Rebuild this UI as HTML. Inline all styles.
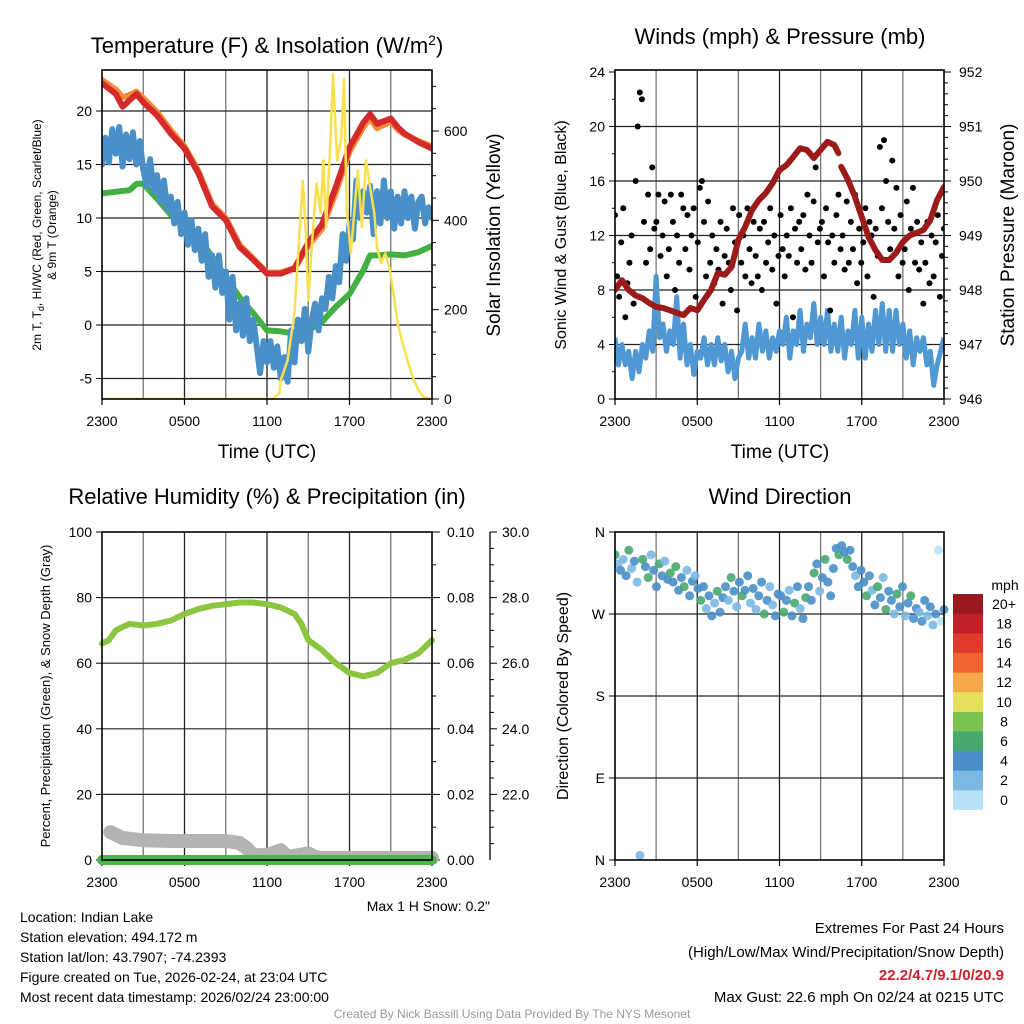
<!DOCTYPE html>
<html><head><meta charset="utf-8"><style>
html,body{margin:0;padding:0;background:#fff;}
svg{display:block;font-family:"Liberation Sans",sans-serif;}
</style></head><body>
<svg id="c" width="1024" height="1024" viewBox="0 0 1024 1024" xmlns="http://www.w3.org/2000/svg">
<rect width="1024" height="1024" fill="#fff"/>
<text x="267" y="53" font-size="22" text-anchor="middle">Temperature (F) &amp; Insolation (W/m<tspan dy="-8" font-size="14">2</tspan><tspan dy="8">)</tspan></text>
<text x="780" y="44" font-size="22" text-anchor="middle">Winds (mph) &amp; Pressure (mb)</text>
<text x="267" y="504" font-size="22" text-anchor="middle">Relative Humidity (%) &amp; Precipitation (in)</text>
<text x="780" y="504" font-size="22" text-anchor="middle">Wind Direction</text>

<text transform="translate(41,235) rotate(-90)" font-size="12" text-anchor="middle">2m T, T<tspan font-size="9" dy="3">d</tspan><tspan dy="-3">, HI/WC (Red, Green, Scarlet/Blue)</tspan></text>
<text transform="translate(56,235) rotate(-90)" font-size="12" text-anchor="middle">&amp; 9m T (Orange)</text>
<text transform="translate(500,235) rotate(-90)" font-size="19" text-anchor="middle">Solar Insolation (Yellow)</text>
<text transform="translate(566,235) rotate(-90)" font-size="16" text-anchor="middle">Sonic Wind &amp; Gust (Blue, Black)</text>
<text transform="translate(1014,235) rotate(-90)" font-size="19" text-anchor="middle">Station Pressure (Maroon)</text>
<text transform="translate(50,696) rotate(-90)" font-size="13" text-anchor="middle">Percent, Precipitation (Green), &amp; Snow Depth (Gray)</text>
<text transform="translate(568,696) rotate(-90)" font-size="16" text-anchor="middle">Direction (Colored By Speed)</text>
<text x="267" y="458" font-size="19" text-anchor="middle">Time (UTC)</text>
<text x="780" y="458" font-size="19" text-anchor="middle">Time (UTC)</text>

<text x="490" y="911" font-size="14" text-anchor="end">Max 1 H Snow: 0.2"</text>
<g font-size="14">
<text x="20" y="922">Location: Indian Lake</text>
<text x="20" y="942">Station elevation: 494.172 m</text>
<text x="20" y="962">Station lat/lon: 43.7907; -74.2393</text>
<text x="20" y="982">Figure created on Tue, 2026-02-24, at 23:04 UTC</text>
<text x="20" y="1002">Most recent data timestamp: 2026/02/24 23:00:00</text>
</g>
<g font-size="15" text-anchor="end">
<text x="1004" y="933">Extremes For Past 24 Hours</text>
<text x="1004" y="957">(High/Low/Max Wind/Precipitation/Snow Depth)</text>
<text x="1004" y="980" fill="#d0202a" font-weight="bold">22.2/4.7/9.1/0/20.9</text>
<text x="1004" y="1002">Max Gust: 22.6 mph On 02/24 at 0215 UTC</text>
</g>
<text x="512" y="1018" font-size="12" fill="#999" text-anchor="middle">Created By Nick Bassill Using Data Provided By The NYS Mesonet</text>
</svg>
<script>
// ---------- data ----------
const timeTicks = ["2300","0500","1100","1700","2300"];
const tempTicks = [-5,0,5,10,15,20];
const solarTicks = [0,200,400,600];
const windTicks = [0,4,8,12,16,20,24];
const presTicks = [946,947,948,949,950,951,952];
const rhTicks = [0,20,40,60,80,100];
const precipTicks = ["0.00","0.02","0.04","0.06","0.08","0.10"];
const snowTicks = ["22.0","24.0","26.0","28.0","30.0"];
const dirTicks = ["N","E","S","W","N"];
const speedBins = ["0","2","4","6","8","10","12","14","16","18","20+"];
const speedColors = ["#b6e1f6","#7ab8e3","#4a8fc7","#48a86d","#7cc250","#e6e05c","#f7a84a","#f06530","#e03a2c","#c0202a","#981a1e"];

const redHours = [0,1,1.5,2,2.5,3,4,5,6,7,8,9,10,11,12,13,14,15,16,17,18,19,19.5,20,21,21.5,22,23,24];
const redTemp = [22.6,21.6,20.4,21.0,21.6,20.8,19.6,17.9,16.5,14.2,11.1,9.8,7.3,6.1,4.8,4.8,5.3,7.7,9.4,12.9,16.6,18.9,19.7,18.8,19.3,18.5,17.9,17.1,16.5];
const orangeTemp = [22.9,22.0,21.3,21.5,21.8,21.2,19.9,18.2,16.7,14.4,11.3,10.0,7.5,6.2,4.9,4.9,5.3,7.4,9.0,12.4,16.2,18.5,19.3,18.4,19.0,18.3,17.8,17.2,16.7];
const greenHours = [0,2,2.5,3,4,5,6,7,8,9,10,11,12,13,14,15,16,17,18,19,19.5,20,21,22,23,24];
const greenTemp = [12.3,12.6,13.2,13.2,11.8,10.3,9.7,8.2,6.4,4.5,2.6,1.1,-0.5,-0.6,-0.8,-0.5,0.3,1.7,2.9,5.1,6.5,6.5,6.6,6.5,6.8,7.4];
const blueTemp = [15.0,17.5,15.2,18.3,16.0,18.5,14.8,17.8,15.5,
18.0,15.0,17.2,14.5, 13.0,15.5,12.5,14.0, 11.5,13.5,10.8,12.0, 9.5,11.5,8.5,10.5,
7.5,9.8,7.0,9.0, 6.0,8.5,4.5,6.5, 3.5,6.5,3.0,5.0, 0.5,4.5,-0.5,2.0,
-1.0,2.5,-1.5,0.5, -2.0,-4.5,-1.5,-3.5, -1.5,-4.0,-2.0,-5.0, -3.0,-5.3,-0.5,-3.5,
0.5,-1.5,1.5,-2.5, 0.5,2.0,-0.5,2.5, 1.5,4.5,2.5,5.5, 4.0,8.5,6.0,9.5,
8.0,13.5,10.0,12.5, 10.5,13.0,8.5,12.5, 9.5,13.5,10.0,12.5, 9.0,12.0,9.5,12.5,
10.0,12.0,9.0,11.5, 12.0,9.5,11.0,10.0];
const solarHours = [0,12.4,12.9,13,13.5,14,14.3,14.6,14.8,15,15.3,15.6,15.9,16.1,16.3,16.6,16.8,17.1,17.4,17.6,17.8,18.1,18.4,18.6,18.9,19.2,19.5,19.8,20,20.3,20.6,20.9,21.2,21.5,21.8,22.2,22.6,23,23.4,24];
const solarValues = [0,0,13,42,87,192,340,489,385,221,362,483,416,534,385,572,728,534,585,717,422,326,438,512,385,534,474,416,340,304,326,295,237,170,132,87,49,20,4,0];

const windSpeed = [4.5,2.5,4.0,2.5,3.5,1.5,3.5,2.0,4.0,
3.0,5.0,3.5,9.0, 4.5,5.5,3.5,5.0, 4.0,7.5,3.0,5.5, 2.5,4.0,1.8,3.5,
3.0,4.5,2.5,4.0, 2.5,4.5,2.8,4.0, 2.0,3.5,1.5,3.0, 3.5,5.5,3.0,4.5,
3.0,5.5,3.5,5.0, 3.0,4.5,3.5,5.0, 4.0,6.0,3.0,5.0, 4.0,6.5,3.5,5.5,
4.5,7.0,4.0,6.0, 4.0,6.5,3.5,5.5, 3.5,6.0,3.0,5.0, 4.0,6.5,3.0,6.0,
3.0,5.5,3.5,6.5, 4.0,7.0,3.5,6.5, 3.5,6.5,4.0,5.5, 3.0,5.0,2.5,4.5,
3.5,4.5,2.5,3.5, 1.0,2.5,3.5,4.5];
const gustSpeed = [13.5,9,7.5,11.5,14,6,8.5,10,12,7,
16,20,22.5,22,13,10,15,11,17,12.5,
13,15,10.5,12,14.5,9,11,15,13,8,
12,10,15,14,11,13.5,9.5,12,14,7.5,
11.5,15.5,16,13,9,14.5,10,12,8.5,11,
9.5,13,7,10.5,12.5,10,8,14,11.5,6.5,
13.5,10,12,9,14,11,8.5,13,10.5,9,
12.5,8,13,10,11.5,14,9.5,12,7,10.5,
13.5,11,9,12,10.5,14,6,12.5,10,13,
11,13.5,9.5,15,12,10,14.5,17,11.5,12.5,
13,9,14,11.5,6.5,12,10,13.5,15,11,
12,9.5,14.5,10,13,11,15,8.5,12.5,10,
11.5,14,9,13,12,7.5,12.5,10.5,18.5,14,
19,16,13,11,17.5,12.5,15.5,9,13.5,10,
11,14.5,8,12.5,15.5,10,13,9.5,11.5,7,
10,13,8.5,12,9,11.5,13.5,7.5,10.5,12.5];
const presHours = [0,0.5,1,1.5,2,2.5,3,3.5,4,4.5,5,5.5,6,6.5,7,7.5,8,8.5,9,9.5,10,10.5,11,11.5,12,12.5,13,13.5,14,14.5,15,15.5,16,16.3,16.4,16.5,17,17.5,18,18.5,19,19.5,20,20.5,21,21.5,22,22.5,23,23.5,24];
const presValues = [948.0,948.18,948.0,947.9,947.85,947.76,947.69,947.67,947.63,947.58,947.54,947.67,947.63,947.82,948.0,948.31,948.28,948.42,948.92,949.16,949.47,949.65,949.78,949.96,950.2,950.29,950.44,950.6,950.57,950.42,950.57,950.72,950.66,950.51,null,950.26,950.02,949.71,949.34,948.97,948.73,948.55,948.55,948.68,948.88,949.0,949.05,949.1,949.28,949.65,949.89];

const rhHours = [0,0.5,1,1.5,2,3,4,5,6,7,8,9,10,11,12,13,14,14.5,15,16,17,18,19,20,21,22,23,24];
const rhValues = [66,67,70,71,72,71.5,72,73,75,76.5,77.5,78,78.5,78.5,78,77,75,72,67,64,60,57,56,57,60,61,63,67];
const precipValues = [0,0];
const snowHours = [0.6,1.5,3,5,9,10,10.5,11,12,13,13.5,15,15.5,16,24];
const snowValues = [20.85,20.67,20.6,20.58,20.58,20.52,20.37,20.15,20.15,20.3,20.09,20.2,20.09,20.06,20.06];

const dirValues = [335,325,318,330,312,340,320,328,305,5,
330,322,310,335,318,300,325,312,328,308,
315,305,322,296,310,300,318,290,306,312,
298,285,300,276,290,268,282,295,272,288,
300,285,310,295,278,305,290,296,312,282,
298,275,290,305,270,285,300,280,268,292,
290,272,285,296,268,282,300,276,265,288,
300,285,315,325,295,310,330,305,290,320,
342,335,345,338,330,340,322,312,300,318,
305,290,312,296,280,300,288,310,275,295,
285,270,292,278,300,268,282,290,265,276,
272,262,285,268,278,258,270,340,262,275];
const dirSpeed = [6,3,4,2,4,7,3,4,2,2,
7,4,6,3,4,4,6,4,2,4,
7,4,7,4,4,6,3,4,4,2,
4,6,4,3,5,4,2,6,4,4,
4,3,7,4,2,4,6,4,4,3,
4,2,4,5,6,4,3,2,4,4,
4,6,4,3,4,6,4,2,4,6,
4,4,7,4,2,4,6,4,4,5,
4,6,5,4,7,4,4,3,4,4,
4,6,4,3,4,7,4,2,6,4,
4,3,6,4,4,2,4,6,4,4,
3,4,4,2,4,3,4,1,1,4];

// ---------- helpers ----------
const NS = "http://www.w3.org/2000/svg";
const svg = document.getElementById('c');
function mk(tag, attrs, parent){
  const e = document.createElementNS(NS, tag);
  for (const k in attrs) e.setAttribute(k, attrs[k]);
  (parent||svg).appendChild(e);
  return e;
}
function txt(x,y,s,size,anchor,parent){
  const t = mk('text',{x:x,y:y,'font-size':size,'text-anchor':anchor||'middle'},parent);
  t.textContent = s; return t;
}
function linear(d0,d1,r0,r1){ return v => r0 + (v-d0)/(d1-d0)*(r1-r0); }
function pathFrom(xs, ys, sx, sy){
  let d = "", pen = false;
  for (let i=0;i<xs.length;i++){
    if (ys[i]===null){ pen=false; continue; }
    d += (pen?"L":"M") + sx(xs[i]).toFixed(1) + "," + sy(ys[i]).toFixed(1);
    pen = true;
  }
  return d;
}
function panelFrame(name, x0,y0,x1,y1, hLines, sy){
  const g = mk('g',{});
  
  
  for (let h=3; h<24; h+=3){
    const x = x0 + h/24*(x1-x0);
    const l = mk('line',{x1:x,y1:y0,x2:x,y2:y1,stroke:(h%6===0?'#222':'#777'),'stroke-width':1.3},g);
    
    
  }
  hLines.forEach(v=>{
    const y = sy(v);
    const l = mk('line',{x1:x0,y1:y,x2:x1,y2:y,stroke:'#222','stroke-width':1.2},g);
    
    
  });
  const ax = mk('g',{});
  
  
  timeTicks.forEach((s,i)=>{
    const x = x0 + i*6/24*(x1-x0);
    mk('line',{x1:x,y1:y1,x2:x,y2:y1+6,stroke:'#000','stroke-width':1.2},ax);
    const t = txt(x, y1+27, s, 14, 'middle', ax);
    
    
  });
}
function panelBorder(name,x0,y0,x1,y1){
  const r = mk('rect',{x:x0,y:y0,width:x1-x0,height:y1-y0,fill:'none',stroke:'#000','stroke-width':1.6});
  
  
}
function clip(id,x0,y0,x1,y1){
  const c = mk('clipPath',{id:id});
  mk('rect',{x:x0,y:y0,width:x1-x0,height:y1-y0},c);
}

// ---------- Panel 1: temperature ----------
(function(){
  const x0=102,x1=432,y0=70,y1=399;
  const sx = linear(0,24,x0,x1);
  const sy = linear(0,20,325,111);
  const sr = linear(0,600,399,131);
  clip('cp1',x0,y0,x1,y1);
  panelFrame('temp-panel',x0,y0,x1,y1,tempTicks,sy);
  const ly = mk('g',{});
  
  
  tempTicks.forEach(v=>{
    mk('line',{x1:x0-6,y1:sy(v),x2:x0,y2:sy(v),stroke:'#000'},ly);
    txt(x0-10, sy(v)+5, String(v), 14, 'end', ly);
  });
  const ry = mk('g',{});
  
  
  for (let v=0; v<=700; v+=50){
    mk('line',{x1:x1,y1:sr(v),x2:x1+(v%200===0?7:4),y2:sr(v),stroke:'#000'},ry);
  }
  solarTicks.forEach(v=>{ txt(x1+12, sr(v)+5, String(v), 14, 'start', ry); });
  const g = mk('g',{'clip-path':'url(#cp1)'});
  
  
  const p1 = mk('path',{d:pathFrom(greenHours,greenTemp,sx,sy),fill:'none',stroke:'#44b044','stroke-width':6,'stroke-linejoin':'round','stroke-linecap':'round'},g);
  
  
  const bh = blueTemp.map((v,i)=>i*0.25);
  const p2 = mk('path',{d:pathFrom(bh,blueTemp,sx,sy),fill:'none',stroke:'#4a90c8','stroke-width':6,'stroke-linejoin':'round','stroke-linecap':'round'},g);
  
  
  const p3 = mk('path',{d:pathFrom(redHours,orangeTemp,sx,sy),fill:'none',stroke:'#f58a3a','stroke-width':6,'stroke-linejoin':'round','stroke-linecap':'round'},g);
  
  
  const p4 = mk('path',{d:pathFrom(redHours,redTemp,sx,sy),fill:'none',stroke:'#d42a2a','stroke-width':6,'stroke-linejoin':'round','stroke-linecap':'round'},g);
  
  
  const p5 = mk('path',{d:pathFrom(solarHours,solarValues,sx,sr),fill:'none',stroke:'#f8e050','stroke-width':2.5,'stroke-linejoin':'round'},g);
  
  
  panelBorder('temp-panel',x0,y0,x1,y1);
})();

// ---------- Panel 2: winds ----------
(function(){
  const x0=615,x1=944,y0=70,y1=399;
  const sx = linear(0,24,x0,x1);
  const sy = linear(0,24,399,72);
  const sp = linear(946,952,399,72);
  clip('cp2',x0,y0,x1,y1);
  panelFrame('wind-panel',x0,y0,x1,y1,[4,8,12,16,20],sy);
  const ly = mk('g',{});
  
  
  windTicks.forEach(v=>{
    mk('line',{x1:x0-6,y1:sy(v),x2:x0,y2:sy(v),stroke:'#000'},ly);
    txt(x0-10, sy(v)+5, String(v), 14, 'end', ly);
  });
  for (let v=2; v<24; v+=4) mk('line',{x1:x0-3,y1:sy(v),x2:x0,y2:sy(v),stroke:'#000'},ly);
  const ry = mk('g',{});
  
  
  for (let v=946; v<=952.001; v+=0.2){
    mk('line',{x1:x1,y1:sp(v),x2:x1+4,y2:sp(v),stroke:'#000'},ry);
  }
  presTicks.forEach(v=>{
    mk('line',{x1:x1,y1:sp(v),x2:x1+7,y2:sp(v),stroke:'#000'},ry);
    txt(x1+15, sp(v)+5, String(v), 14, 'start', ry);
  });
  const g = mk('g',{'clip-path':'url(#cp2)'});
  
  
  const wh = windSpeed.map((v,i)=>i*0.25);
  const w = mk('path',{d:pathFrom(wh,windSpeed,sx,sy),fill:'none',stroke:'#4f98d4','stroke-width':5,'stroke-linejoin':'round'},g);
  
  
  const n = gustSpeed.length;
  gustSpeed.forEach((v,i)=>{
    const c = mk('circle',{cx:sx(i*24/(n-1)),cy:sy(v),r:3,fill:'#000'},g);
    
    
  });
  const p = mk('path',{d:pathFrom(presHours,presValues,sx,sp),fill:'none',stroke:'#9b1b1b','stroke-width':6,'stroke-linejoin':'round','stroke-linecap':'round'},g);
  
  
  panelBorder('wind-panel',x0,y0,x1,y1);
})();

// ---------- Panel 3: RH ----------
(function(){
  const x0=102,x1=432,y0=532,y1=860;
  const sx = linear(0,24,x0,x1);
  const sy = linear(0,100,860,532);
  const sn = linear(20,30,860,532);
  clip('cp3',x0-10,y0,x1+10,y1+12);
  panelFrame('rh-panel',x0,y0,x1,y1,[20,40,60,80],sy);
  const ly = mk('g',{});
  
  
  rhTicks.forEach(v=>{
    mk('line',{x1:x0-6,y1:sy(v),x2:x0,y2:sy(v),stroke:'#000'},ly);
    txt(x0-10, sy(v)+5, String(v), 14, 'end', ly);
  });
  const ry = mk('g',{});
  
  
  precipTicks.forEach((s,i)=>{
    const y = sy(i*20);
    mk('line',{x1:x1,y1:y,x2:x1+8,y2:y,stroke:'#000'},ry);
    txt(x1+15, y+5, s, 14, 'start', ry);
  });
  for (let i=0;i<5;i++) mk('line',{x1:x1,y1:sy(i*20+10),x2:x1+4,y2:sy(i*20+10),stroke:'#000'},ry);
  const oy = mk('g',{});
  
  
  mk('line',{x1:490,y1:532,x2:490,y2:860,stroke:'#000','stroke-width':1.3},oy);
  for (let v=20.5; v<=30; v+=0.5){
    const major = Math.abs(v%2)<0.01;
    mk('line',{x1:490,y1:sn(v),x2:490+(major?7:4),y2:sn(v),stroke:'#000'},oy);
  }
  snowTicks.forEach(s=>{ txt(502, sn(parseFloat(s))+5, s, 14, 'start', oy); });
  const g = mk('g',{'clip-path':'url(#cp3)'});
  
  
  const s = mk('path',{d:pathFrom(snowHours,snowValues,sx,sn),fill:'none',stroke:'#b3b3b3','stroke-width':14,'stroke-linejoin':'round','stroke-linecap':'round'},g);
  
  
  const pr = mk('path',{d:pathFrom([0,24],precipValues,sx,v=>sy(v*1000)),fill:'none',stroke:'#4cb44c','stroke-width':10,'stroke-linecap':'round'},g);
  
  
  const r = mk('path',{d:pathFrom(rhHours,rhValues,sx,sy),fill:'none',stroke:'#8cc640','stroke-width':6,'stroke-linejoin':'round','stroke-linecap':'round'},g);
  
  
  panelBorder('rh-panel',x0,y0,x1,y1);
})();

// ---------- Panel 4: direction ----------
(function(){
  const x0=615,x1=944,y0=532,y1=860;
  const sx = linear(0,24,x0,x1);
  const sy = linear(0,360,860,532);
  clip('cp4',x0,y0-6,x1+6,y1);
  panelFrame('dir-panel',x0,y0,x1,y1,[90,180,270],sy);
  const ly = mk('g',{});
  
  
  dirTicks.forEach((s,i)=>{
    mk('line',{x1:x0-6,y1:sy(i*90),x2:x0,y2:sy(i*90),stroke:'#000'},ly);
    txt(x0-10, sy(i*90)+5, s, 14, 'end', ly);
  });
  const g = mk('g',{'clip-path':'url(#cp4)'});
  
  
  const n = dirValues.length;
  dirValues.forEach((v,i)=>{
    const bin = Math.min(10, Math.floor(dirSpeed[i]/2));
    const c = mk('circle',{cx:sx(i*24/(n-1)),cy:sy(v),r:4.5,fill:speedColors[bin],'fill-opacity':0.9},g);
    
    
  });
  panelBorder('dir-panel',x0,y0,x1,y1);
  const cb = mk('g',{});
  
  
  txt(1005, 590, 'mph', 14, 'middle', cb);
  const h = 19.6;
  speedBins.forEach((s,i)=>{
    const y = 594 + (10-i)*h;
    const r = mk('rect',{x:953,y:y,width:30,height:h+0.3,fill:speedColors[i]},cb);
    
    
    txt(1004, y+h/2+5, s, 14, 'middle', cb);
  });
})();
</script>
</body></html>
